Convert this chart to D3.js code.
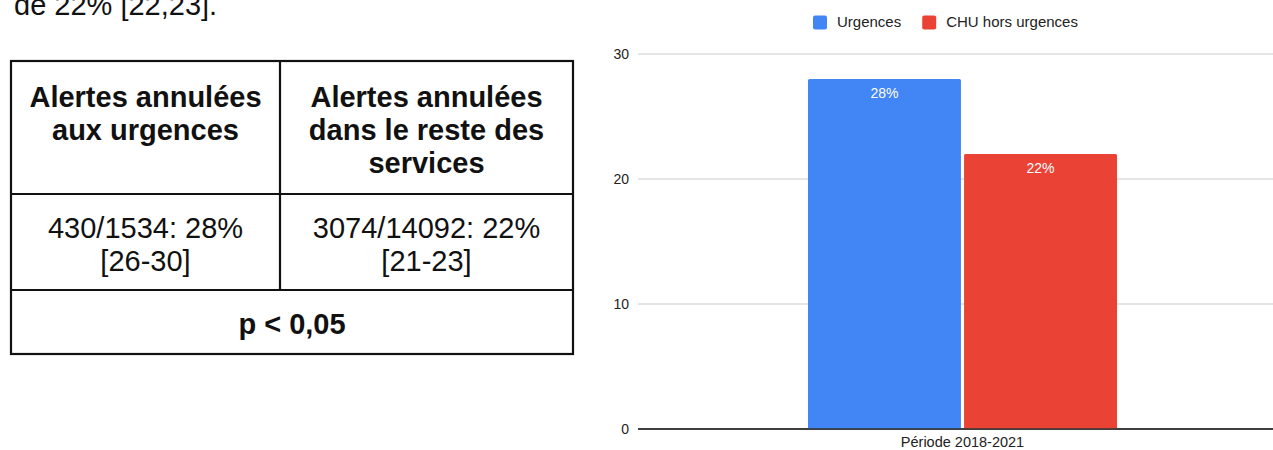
<!DOCTYPE html>
<html>
<head>
<meta charset="utf-8">
<script src="https://cdn.jsdelivr.net/npm/d3@7"></script>
<style>
	body { margin: 0; background: #fff; }
	svg { display: block; font-family: "Liberation Sans", Arial, sans-serif; }
</style>
</head>
<body>
<svg id="page"></svg>
<script>
// text above the table (cut off in the source)
var introText = "de 22% [22,23].";

// table contents
var headerLeft = ["Alertes annulées", "aux urgences"];
var headerRight = ["Alertes annulées", "dans le reste des", "services"];
var valueLeft = ["430/1534: 28%", "[26-30]"];
var valueRight = ["3074/14092: 22%", "[21-23]"];
var footerText = "p < 0,05";

// chart data
var categories = ["Période 2018-2021"];
var seriesNames = ["Urgences", "CHU hors urgences"];
var seriesColors = ["#4285f4", "#ea4335"];
var seriesValues = [28, 22];
var valueLabels = ["28%", "22%"];
var yTicks = [0, 10, 20, 30];

var W = 1273, H = 450;
var svg = d3.select("#page").attr("width", W).attr("height", H);

svg.append("text")
	.attr("x", 14).attr("y", 15)
	.attr("font-size", 29)
	.attr("fill", "#111")
	.text(introText);

// ---- table ----
var tbl = {left: 11, right: 573, mid: 280, top: 61, row1: 194, row2: 290, bottom: 354};
var tg = svg.append("g");

tg.append("rect")
	.attr("x", tbl.left).attr("y", tbl.top)
	.attr("width", tbl.right - tbl.left).attr("height", tbl.bottom - tbl.top)
	.attr("fill", "none").attr("stroke", "#111").attr("stroke-width", 2.2);
[tbl.row1, tbl.row2].forEach(function(y){
	tg.append("line").attr("x1", tbl.left).attr("x2", tbl.right)
		.attr("y1", y).attr("y2", y)
		.attr("stroke", "#111").attr("stroke-width", 2.2);
});
tg.append("line").attr("x1", tbl.mid).attr("x2", tbl.mid)
	.attr("y1", tbl.top).attr("y2", tbl.row2)
	.attr("stroke", "#111").attr("stroke-width", 2.2);

function cellLines(lines, cx, y0, bold){
	tg.append("text")
		.attr("text-anchor", "middle")
		.attr("font-size", 29)
		.attr("font-weight", bold ? "bold" : "normal")
		.attr("fill", "#111")
		.selectAll("tspan")
		.data(lines)
		.enter().append("tspan")
		.attr("x", cx)
		.attr("y", (d, i) => y0 + i * 33)
		.text(d => d);
}
var cLeft = (tbl.left + tbl.mid) / 2, cRight = (tbl.mid + tbl.right) / 2;
cellLines(headerLeft, cLeft, 107, true);
cellLines(headerRight, cRight, 107, true);
cellLines(valueLeft, cLeft, 238, false);
cellLines(valueRight, cRight, 238, false);
cellLines([footerText], (tbl.left + tbl.right) / 2, 334, true);

// ---- bar chart ----
var plot = {left: 638, right: 1287, top: 54, bottom: 429};

var y = d3.scaleLinear().domain([0, 30]).range([plot.bottom, plot.top]);
var x0 = d3.scaleBand().domain(categories).range([plot.left, plot.right]).paddingOuter(0.55);
var x1 = d3.scaleBand().domain(seriesNames).range([0, x0.bandwidth()]).paddingInner(0.02);

var cg = svg.append("g");

// grid lines
cg.selectAll("line.grid")
	.data(yTicks)
	.enter().append("line")
	.attr("class", "grid")
	.attr("x1", plot.left).attr("x2", W)
	.attr("y1", d => y(d)).attr("y2", d => y(d))
	.attr("stroke", d => d === 0 ? "#333" : "#ccc")
	.attr("stroke-width", d => d === 0 ? 1.5 : 1);

// y labels
cg.selectAll("text.ytick")
	.data(yTicks)
	.enter().append("text")
	.attr("class", "ytick")
	.attr("x", 629).attr("y", d => y(d))
	.attr("dy", "0.36em")
	.attr("text-anchor", "end")
	.attr("font-size", 14)
	.attr("fill", "#222")
	.text(d => d);

var barData = seriesNames.map(function(s, i){
	return {name: s, value: seriesValues[i], color: seriesColors[i], label: valueLabels[i], cat: categories[0]};
});

cg.selectAll("rect.bar")
	.data(barData)
	.enter().append("rect")
	.attr("class", "bar")
	.attr("x", d => x0(d.cat) + x1(d.name))
	.attr("y", d => y(d.value))
	.attr("width", x1.bandwidth())
	.attr("height", d => y(0) - y(d.value))
	.attr("rx", 1.5)
	.attr("fill", d => d.color);

// redraw baseline over bars
cg.append("line")
	.attr("x1", plot.left).attr("x2", W)
	.attr("y1", y(0)).attr("y2", y(0))
	.attr("stroke", "#333").attr("stroke-width", 1.5);

cg.selectAll("text.barlabel")
	.data(barData)
	.enter().append("text")
	.attr("class", "barlabel")
	.attr("x", d => x0(d.cat) + x1(d.name) + x1.bandwidth() / 2)
	.attr("y", d => y(d.value) + 19)
	.attr("text-anchor", "middle")
	.attr("font-size", 14)
	.attr("fill", "#fff")
	.text(d => d.label);

// x label
cg.selectAll("text.xcat")
	.data(categories)
	.enter().append("text")
	.attr("class", "xcat")
	.attr("x", d => x0(d) + x0.bandwidth() / 2)
	.attr("y", 447)
	.attr("text-anchor", "middle")
	.attr("font-size", 14.5)
	.attr("fill", "#222")
	.text(d => d);

// legend
var lx = 813;
seriesNames.forEach(function(name, i){
	cg.append("rect")
		.attr("x", lx).attr("y", 15.5)
		.attr("width", 14).attr("height", 14)
		.attr("rx", 2)
		.attr("fill", seriesColors[i]);
	var t = cg.append("text")
		.attr("x", lx + 24).attr("y", 27)
		.attr("font-size", 15)
		.attr("fill", "#222")
		.text(name);
	lx += 24 + t.node().getComputedTextLength() + 21;
});
</script>
</body>
</html>
